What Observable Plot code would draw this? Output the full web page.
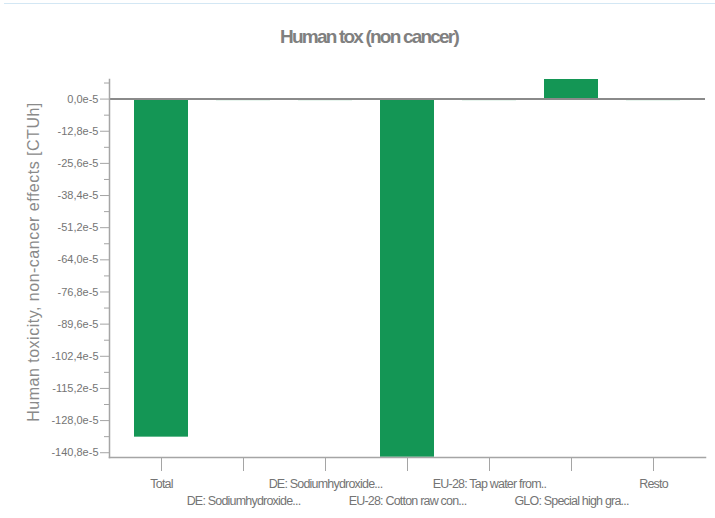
<!DOCTYPE html>
<html><head><meta charset="utf-8">
<script src="https://cdn.jsdelivr.net/npm/d3@7"></script>
<script src="https://cdn.jsdelivr.net/npm/@observablehq/plot@0.6"></script>
<style>
body{margin:0;background:#fff;font-family:"Liberation Sans",Arial,sans-serif;}
#wrap{position:relative;width:715px;height:518px;overflow:hidden;background:#fff;}
#topline{position:absolute;left:4px;right:0;top:3px;height:0;border-top:1px solid #d3e7f4;}
#title{position:absolute;left:0;width:738px;top:26px;text-align:center;font-size:19px;font-weight:bold;letter-spacing:-1.8px;color:#808080;}
#ylabel{position:absolute;left:34px;top:262px;transform:translate(-50%,-50%) rotate(-90deg);white-space:nowrap;font-size:16px;color:#8a8a8a;letter-spacing:0.5px;}
#chart{position:absolute;left:0;top:0;}
</style></head><body>
<div id="wrap">
<div id="chart"></div>
<div id="topline"></div>
<div id="title">Human tox (non cancer)</div>
<div id="ylabel">Human toxicity, non-cancer effects [CTUh]</div>
</div>
<script>
// categories (x-axis labels, in order)
const labels = ["Total", "DE: Sodiumhydroxide...", "DE: Sodiumhydroxide...", "EU-28: Cotton raw con...", "EU-28: Tap water from..", "GLO: Special high gra...", "Resto"];
// values in units of 1e-5 CTUh
const values = [-134.6, -0.6, -0.6, -142.6, -0.6, 7.8, -0.6];
// y-axis tick labels (units of 1e-5)
const yTicks = [0, -12.8, -25.6, -38.4, -51.2, -64.0, -76.8, -89.6, -102.4, -115.2, -128.0, -140.8];
const yMinorTicks = [6.4, -6.4, -19.2, -32.0, -44.8, -57.6, -70.4, -83.2, -96.0, -108.8, -121.6, -134.4];
const yDomain = [-142.7, 7.8];

const data = labels.map((label, i) => ({i, label, v: values[i]}));
const green = "#149655";
const axisGray = "#a5a5a5";
const textGray = "#747474";

const plot = Plot.plot({
  width: 715,
  height: 518,
  marginLeft: 109,
  marginRight: 10,
  marginTop: 79,
  marginBottom: 61,
  style: {fontFamily: '"Liberation Sans", Arial, sans-serif', background: "transparent"},
  x: {type: "band", domain: d3.range(labels.length), paddingInner: 0.34, paddingOuter: 0.3},
  y: {domain: yDomain},
  marks: [
    Plot.barY(data, {x: "i", y: "v", fill: green, clip: true}),
    Plot.ruleY([0], {stroke: "#8a8a8a", strokeWidth: 2}),
    Plot.frame({anchor: "left", stroke: axisGray, strokeWidth: 1.5}),
    Plot.frame({anchor: "bottom", stroke: axisGray, strokeWidth: 1.5}),
    Plot.axisY(yTicks, {
      tickSize: 9, tickPadding: 2, stroke: axisGray, fill: textGray, fontSize: 11,
      tickFormat: d => d.toFixed(1).replace(".", ",") + "e-5", label: null
    }),
    Plot.axisY(yMinorTicks, {tickSize: 5, stroke: axisGray, tickFormat: () => "", label: null}),
    Plot.axisX({tickSize: 14, stroke: axisGray, tickFormat: () => "", label: null}),
    Plot.text(data, {filter: d => d.i % 2 === 0, x: "i", text: "label", frameAnchor: "bottom", dy: 30,
      fill: textGray, fontSize: 12.5}),
    Plot.text(data, {filter: d => d.i % 2 === 1, x: "i", text: "label", frameAnchor: "bottom", dy: 47,
      fill: textGray, fontSize: 12.5})
  ]
});
plot.querySelectorAll("text").forEach(t => {
  if (t.closest("[aria-label='text']")) t.style.letterSpacing = "-0.8px";
});
document.getElementById("chart").appendChild(plot);
</script>
</body></html>
